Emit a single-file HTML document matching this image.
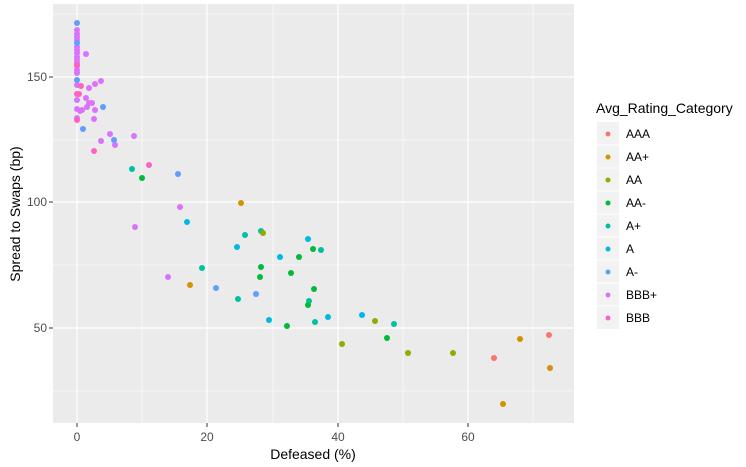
<!DOCTYPE html><html><head><style>body{margin:0;background:#fff}svg{display:block;font-family:"Liberation Sans",sans-serif}</style></head><body>
<svg width="746" height="467" xmlns="http://www.w3.org/2000/svg">
<rect x="53" y="4" width="521" height="419" fill="#ebebeb"/>
<g stroke="#fff" stroke-width="0.6">
<line x1="142" y1="4" x2="142" y2="423"/><line x1="273" y1="4" x2="273" y2="423"/><line x1="403" y1="4" x2="403" y2="423"/><line x1="533" y1="4" x2="533" y2="423"/>
<line x1="53" y1="14" x2="574" y2="14"/><line x1="53" y1="140" x2="574" y2="140"/><line x1="53" y1="265" x2="574" y2="265"/><line x1="53" y1="391" x2="574" y2="391"/>
</g>
<g stroke="#fff" stroke-width="1.2">
<line x1="77" y1="4" x2="77" y2="423"/><line x1="207" y1="4" x2="207" y2="423"/><line x1="338" y1="4" x2="338" y2="423"/><line x1="468" y1="4" x2="468" y2="423"/>
<line x1="53" y1="77" x2="574" y2="77"/><line x1="53" y1="202" x2="574" y2="202"/><line x1="53" y1="328" x2="574" y2="328"/>
</g>
<g stroke="#333" stroke-width="1">
<line x1="77" y1="423" x2="77" y2="427"/><line x1="207" y1="423" x2="207" y2="427"/><line x1="338" y1="423" x2="338" y2="427"/><line x1="468" y1="423" x2="468" y2="427"/>
<line x1="49" y1="77" x2="53" y2="77"/><line x1="49" y1="202" x2="53" y2="202"/><line x1="49" y1="328" x2="53" y2="328"/>
</g>
<g fill="#4d4d4d" font-size="12">
<text x="77" y="441" text-anchor="middle">0</text><text x="207" y="441" text-anchor="middle">20</text><text x="338" y="441" text-anchor="middle">40</text><text x="468" y="441" text-anchor="middle">60</text>
<text x="47" y="81" text-anchor="end">150</text><text x="47" y="206" text-anchor="end">100</text><text x="47" y="332" text-anchor="end">50</text>
</g>
<text x="313" y="459" text-anchor="middle" font-size="14">Defeased (%)</text>
<text transform="translate(20,214) rotate(-90)" text-anchor="middle" font-size="14">Spread to Swaps (bp)</text>
<g fill="#DB72FB">
<circle cx="77" cy="30" r="3"/><circle cx="77" cy="34" r="3"/><circle cx="77" cy="37" r="3"/><circle cx="77" cy="40" r="3"/><circle cx="77" cy="47" r="3"/><circle cx="77" cy="50" r="3"/><circle cx="77" cy="53" r="3"/><circle cx="77" cy="57" r="3"/><circle cx="77" cy="60" r="3"/><circle cx="77" cy="63" r="3"/><circle cx="77" cy="66" r="3"/><circle cx="77" cy="70" r="3"/><circle cx="77" cy="73" r="3"/><circle cx="77" cy="85" r="3"/>
<circle cx="86" cy="54" r="3"/><circle cx="89" cy="88" r="3"/><circle cx="95" cy="84" r="3"/><circle cx="101" cy="81" r="3"/><circle cx="86" cy="98" r="3"/><circle cx="89" cy="103" r="3"/><circle cx="92" cy="103" r="3"/><circle cx="87" cy="107" r="3"/><circle cx="95" cy="110" r="3"/><circle cx="80" cy="111" r="3"/><circle cx="82" cy="110" r="3"/><circle cx="77" cy="109" r="3"/><circle cx="77" cy="100" r="3"/><circle cx="94" cy="119" r="3"/><circle cx="77" cy="118" r="3"/><circle cx="110" cy="134" r="3"/><circle cx="101" cy="141" r="3"/><circle cx="115" cy="145" r="3"/><circle cx="134" cy="136" r="3"/><circle cx="180" cy="207" r="3"/><circle cx="135" cy="227" r="3"/><circle cx="168" cy="277" r="3"/>
</g>
<g fill="#FF61C3"><circle cx="81" cy="86" r="3"/><circle cx="77" cy="94" r="3"/><circle cx="79" cy="94" r="3"/><circle cx="77" cy="120" r="3"/><circle cx="94" cy="151" r="3"/><circle cx="149" cy="165" r="3"/><circle cx="77" cy="65" r="3"/></g>
<g fill="#619CFF"><circle cx="77" cy="23" r="3"/><circle cx="77" cy="43" r="3"/><circle cx="77" cy="80" r="3"/><circle cx="103" cy="107" r="3"/><circle cx="83" cy="129" r="3"/><circle cx="114" cy="140" r="3"/><circle cx="178" cy="174" r="3"/><circle cx="216" cy="288" r="3"/><circle cx="256" cy="294" r="3"/></g>
<g fill="#00C19F"><circle cx="132" cy="169" r="3"/><circle cx="202" cy="268" r="3"/><circle cx="238" cy="299" r="3"/><circle cx="245" cy="235" r="3"/><circle cx="261" cy="231" r="3"/><circle cx="321" cy="250" r="3"/><circle cx="309" cy="301" r="3"/><circle cx="315" cy="322" r="3"/><circle cx="394" cy="324" r="3"/></g>
<g fill="#00B9E3"><circle cx="187" cy="222" r="3"/><circle cx="237" cy="247" r="3"/><circle cx="308" cy="239" r="3"/><circle cx="280" cy="257" r="3"/><circle cx="269" cy="320" r="3"/><circle cx="328" cy="317" r="3"/><circle cx="362" cy="315" r="3"/></g>
<g fill="#00BA38"><circle cx="142" cy="178" r="3"/><circle cx="313" cy="249" r="3"/><circle cx="299" cy="257" r="3"/><circle cx="261" cy="267" r="3"/><circle cx="260" cy="277" r="3"/><circle cx="291" cy="273" r="3"/><circle cx="314" cy="289" r="3"/><circle cx="308" cy="305" r="3"/><circle cx="287" cy="326" r="3"/><circle cx="387" cy="338" r="3"/></g>
<g fill="#93AA00"><circle cx="263" cy="233" r="3"/><circle cx="375" cy="321" r="3"/><circle cx="342" cy="344" r="3"/><circle cx="408" cy="353" r="3"/><circle cx="453" cy="353" r="3"/></g>
<g fill="#D39200"><circle cx="241" cy="203" r="3"/><circle cx="190" cy="285" r="3"/><circle cx="520" cy="339" r="3"/><circle cx="550" cy="368" r="3"/><circle cx="503" cy="404" r="3"/></g>
<g fill="#F8766D"><circle cx="494" cy="358" r="3"/><circle cx="549" cy="335" r="3"/></g>
<text x="596" y="113" font-size="14">Avg_Rating_Category</text>
<g fill="#f2f2f2"><rect x="597" y="122" width="22" height="207"/></g>
<g stroke="#fff" stroke-width="1"><line x1="597" y1="145" x2="619" y2="145"/><line x1="597" y1="168" x2="619" y2="168"/><line x1="597" y1="191" x2="619" y2="191"/><line x1="597" y1="214" x2="619" y2="214"/><line x1="597" y1="237" x2="619" y2="237"/><line x1="597" y1="260" x2="619" y2="260"/><line x1="597" y1="283" x2="619" y2="283"/><line x1="597" y1="306" x2="619" y2="306"/></g>
<g>
<circle cx="608" cy="134" r="2.5" fill="#F8766D"/><circle cx="608" cy="157" r="2.5" fill="#D39200"/><circle cx="608" cy="180" r="2.5" fill="#93AA00"/><circle cx="608" cy="203" r="2.5" fill="#00BA38"/><circle cx="608" cy="226" r="2.5" fill="#00C19F"/><circle cx="608" cy="249" r="2.5" fill="#00B9E3"/><circle cx="608" cy="272" r="2.5" fill="#619CFF"/><circle cx="608" cy="295" r="2.5" fill="#DB72FB"/><circle cx="608" cy="318" r="2.5" fill="#FF61C3"/>
</g>
<g font-size="12">
<text x="626" y="138">AAA</text><text x="626" y="161">AA+</text><text x="626" y="184">AA</text><text x="626" y="207">AA-</text><text x="626" y="230">A+</text><text x="626" y="253">A</text><text x="626" y="276">A-</text><text x="626" y="299">BBB+</text><text x="626" y="322">BBB</text>
</g>
</svg>
</body></html>
